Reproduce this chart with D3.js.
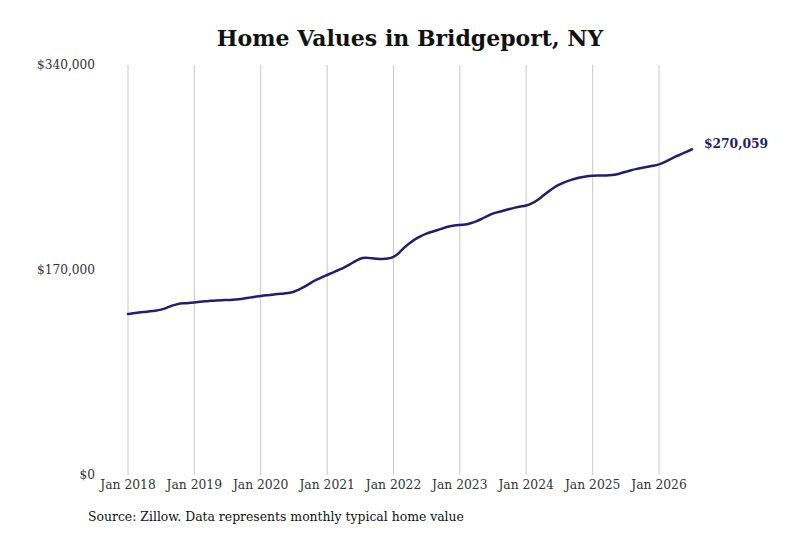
<!DOCTYPE html>
<html><head><meta charset="utf-8">
<script src="https://cdn.jsdelivr.net/npm/d3@7"></script>
<style>body{margin:0;background:#fff}svg{display:block}</style>
</head><body>
<svg id="c" width="800" height="533"></svg>
<script>
const startDate = "2018-01";
const values = [133.5,134.1,134.7,135.2,135.7,136.2,137.0,138.5,140.6,141.8,142.4,142.6,
143.1,143.6,144.0,144.5,144.8,145.0,145.1,145.3,145.8,146.4,147.1,147.8,
148.4,149.0,149.4,150.1,150.3,150.8,151.8,153.8,156.3,159.2,161.9,163.8,
165.9,167.8,169.8,171.7,174.1,177.0,179.7,180.4,179.8,179.3,179.1,179.3,
180.4,184.1,188.7,192.4,195.7,198.2,200.2,201.7,203.2,204.6,206.1,207.1,
207.3,207.7,208.6,210.2,212.3,214.8,216.9,218.1,219.3,220.6,221.8,222.7,
223.3,225.1,227.6,231.4,234.9,238.4,240.9,243.0,244.6,245.9,247.0,247.7,
248.1,248.4,248.3,248.5,248.9,250.0,251.4,252.8,253.9,254.7,255.6,256.4,
257.5,259.3,261.6,264.1,265.8,268.0,270.059].map(v=>v*1000);
const yTicks = [0,170000,340000];
const xTickYears = [2018,2019,2020,2021,2022,2023,2024,2025,2026];
const title = "Home Values in Bridgeport, NY";
const source = "Source: Zillow. Data represents monthly typical home value";

const t0 = d3.timeParse("%Y-%m")(startDate);
const data = values.map((v,i)=>({date:d3.timeMonth.offset(t0,i), value:v}));

const svg = d3.select("#c");
const font = "'DejaVu Serif Condensed','DejaVu Serif',serif";
const x = d3.scaleTime().domain([new Date(2018,0,1), new Date(2026,0,1)]).range([128,659]);
const y = d3.scaleLinear().domain([0,340000]).range([475,65]);

svg.append("text").attr("x",410).attr("y",46).attr("text-anchor","middle")
  .attr("font-family","'DejaVu Serif',serif").attr("font-weight","bold").attr("font-size",22)
  .attr("fill","#111").text(title);

const xt = xTickYears.map(yr=>new Date(yr,0,1));
svg.append("g").selectAll("line").data(xt).join("line")
  .attr("x1",d=>x(d)).attr("x2",d=>x(d)).attr("y1",65).attr("y2",475)
  .attr("stroke","#c8c8c8").attr("stroke-width",1);

svg.append("g").selectAll("text").data(xt).join("text")
  .attr("x",d=>x(d)).attr("y",489).attr("text-anchor","middle")
  .attr("font-family",font).attr("font-size",13.7).attr("fill","#333")
  .text(d3.timeFormat("Jan %Y"));

svg.append("g").selectAll("text").data(yTicks).join("text")
  .attr("x",95).attr("y",d=>y(d)+4).attr("text-anchor","end")
  .attr("font-family",font).attr("font-size",13.5).attr("fill","#333")
  .text(d=>"$"+d3.format(",")(d));

const line = d3.line().x(d=>x(d.date)).y(d=>y(d.value)).curve(d3.curveBasis);
svg.append("path").datum(data).attr("d",line).attr("fill","none")
  .attr("stroke","#221d70").attr("stroke-width",2.5).attr("stroke-linecap","round");

const last = data[data.length-1];
svg.append("text").attr("x",x(last.date)+12).attr("y",y(last.value)-1)
  .attr("font-family",font).attr("font-weight","bold").attr("font-size",13.7)
  .attr("fill","#221d70").text("$"+d3.format(",")(Math.round(last.value)));

svg.append("text").attr("x",88).attr("y",521)
  .attr("font-family",font).attr("font-size",13.8).attr("fill","#111").text(source);
</script>
</body></html>
